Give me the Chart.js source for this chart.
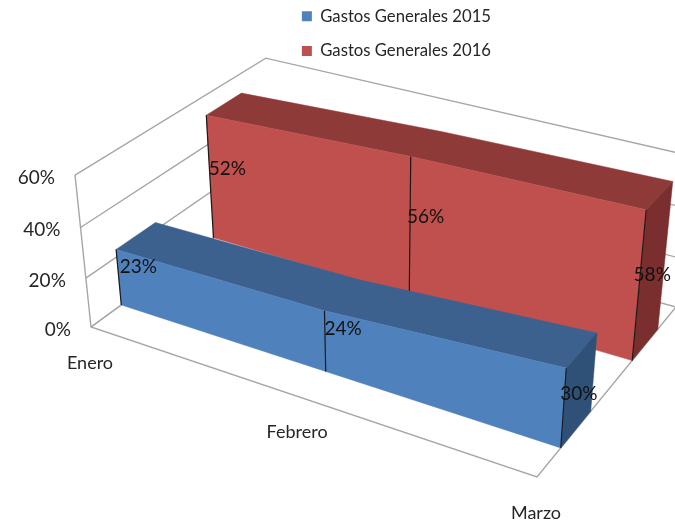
<!DOCTYPE html>
<html>
<head>
<meta charset="utf-8">
<script src="https://cdn.jsdelivr.net/npm/chart.js@4"></script>
<style>body{margin:0;background:#fff}canvas{display:block}</style>
</head>
<body>
<canvas id="chart" width="675" height="526"></canvas>
<script>
// data
let meses=["Enero","Febrero","Marzo"];
let gastos2015=[23,24,30];
let gastos2016=[52,56,58];
let nombre2015="Gastos Generales 2015";
let nombre2016="Gastos Generales 2016";
let yMax=60;
let yStep=20;

// colores: frente, arriba, lado
let azul=["#4F81BD","#3C618E","#2F5177"];
let rojo=["#C0504D","#8E3A38","#7A2F2E"];

// la perspectiva del grafico 3D: esquinas del suelo + punto de fuga vertical
let suelo=[[91,327],[537,477],[676,307],[271,196]];
let fuga=[380,3075];
let kAlto=-0.0524;
let fondoSerie=[[0.15,0.35],[0.65,0.85]]; // profundidad de cada serie

let [p0,p1,p2,p3]=suelo;
let dx1=p1[0]-p2[0],dx2=p3[0]-p2[0],dx3=p0[0]-p1[0]+p2[0]-p3[0];
let dy1=p1[1]-p2[1],dy2=p3[1]-p2[1],dy3=p0[1]-p1[1]+p2[1]-p3[1];
let det=dx1*dy2-dx2*dy1;
let g=(dx3*dy2-dx2*dy3)/det;
let h=(dx1*dy3-dx3*dy1)/det;
let a=p1[0]-p0[0]+g*p1[0],b=p3[0]-p0[0]+h*p3[0];
let d=p1[1]-p0[1]+g*p1[1],e=p3[1]-p0[1]+h*p3[1];

// s: a lo ancho 0-1, t: fondo 0-1, alto: 0-1
function proy(s,t,alto){
    let k=alto*kAlto;
    let w=g*s+h*t+1+k;
    return [(a*s+b*t+p0[0]+k*fuga[0])/w,(d*s+e*t+p0[1]+k*fuga[1])/w];
}

function poli(ctx,puntos,color){
    ctx.beginPath();
    puntos.forEach((p,i)=>i==0?ctx.moveTo(p[0],p[1]):ctx.lineTo(p[0],p[1]));
    ctx.closePath();
    ctx.fillStyle=color;
    ctx.fill();
    ctx.strokeStyle=color;
    ctx.lineWidth=0.5;
    ctx.stroke();
}

function linea(ctx,puntos,color,ancho){
    ctx.beginPath();
    puntos.forEach((p,i)=>i==0?ctx.moveTo(p[0],p[1]):ctx.lineTo(p[0],p[1]));
    ctx.strokeStyle=color;
    ctx.lineWidth=ancho;
    ctx.stroke();
}

let area3d={
    id:'area3d',
    afterDatasetsDraw(chart){
        let ctx=chart.ctx;
        let x=chart.scales.x,y=chart.scales.y;
        let posS=i=>(x.getPixelForValue(i)-x.left)/x.width;
        let posH=v=>(y.bottom-y.getPixelForValue(v))/y.height;
        ctx.save();

        // paredes y suelo
        let gris="#A6A6A6";
        y.ticks.forEach(tk=>{
            let al=posH(tk.value);
            linea(ctx,[proy(0,0,al),proy(0,1,al),proy(1,1,al)],gris,1.4);
        });
        linea(ctx,[proy(0,0,1),proy(0,0,0),proy(1,0,0),proy(1,1,0)],gris,1.4);
        linea(ctx,[proy(0,0,0),proy(0,1,0)],gris,1.4);

        // series, de atras hacia adelante
        for(let n=chart.data.datasets.length-1;n>=0;n--){
            let ds=chart.data.datasets[n];
            let [t0,t1]=fondoSerie[n];
            let cols=ds.colores;
            let ult=ds.data.length-1;
            let arribaF=ds.data.map((v,i)=>proy(posS(i),t0,posH(v)));
            let arribaA=ds.data.map((v,i)=>proy(posS(i),t1,posH(v)));
            let abajoF=ds.data.map((v,i)=>proy(posS(i),t0,0));
            poli(ctx,arribaA.concat(arribaF.slice().reverse()),cols[1]);
            poli(ctx,[arribaF[ult],arribaA[ult],proy(1,t1,0),abajoF[ult]],cols[2]);
            poli(ctx,arribaF.concat(abajoF.slice().reverse()),cols[0]);
            ds.data.forEach((v,i)=>{
                linea(ctx,[arribaF[i],abajoF[i]],"#1a1a1a",1.2);
            });
        }

        // etiquetas de datos
        ctx.fillStyle="#111";
        ctx.font="19px Lato";
        ctx.textAlign="center";
        ctx.textBaseline="middle";
        chart.data.datasets.forEach((ds,n)=>{
            let tm=(fondoSerie[n][0]+fondoSerie[n][1])/2;
            ds.data.forEach((v,i)=>{
                let p=proy(posS(i),tm,posH(v)/2);
                ctx.fillText(v+"%",p[0],p[1]+3);
            });
        });

        // ejes
        ctx.fillStyle="#262626";
        ctx.textAlign="right";
        y.ticks.forEach(tk=>{
            let p=proy(0,0,posH(tk.value));
            ctx.fillText(tk.label,p[0]-20,p[1]+2.5);
        });
        ctx.font="18px Lato";
        ctx.textAlign="center";
        chart.data.labels.forEach((m,i)=>{
            let p=proy(posS(i),0,0);
            ctx.fillText(m,p[0]-1,p[1]+36);
        });
        ctx.restore();
    }
};

new Chart(document.getElementById('chart'),{
    type:'line',
    data:{
        labels:meses,
        datasets:[
            {label:nombre2015,data:gastos2015,backgroundColor:azul[0],borderWidth:0,showLine:false,pointRadius:0,colores:azul},
            {label:nombre2016,data:gastos2016,backgroundColor:rojo[0],borderWidth:0,showLine:false,pointRadius:0,colores:rojo}
        ]
    },
    options:{
        responsive:false,
        animation:false,
        layout:{padding:{right:174,top:-10}},
        scales:{
            x:{display:false},
            y:{display:false,min:0,max:yMax,ticks:{stepSize:yStep,callback:v=>v+"%"}}
        },
        plugins:{
            tooltip:{enabled:false},
            legend:{
                position:'right',
                align:'start',
                labels:{boxWidth:10,boxHeight:10,padding:18,color:"#262626",font:{family:"Lato",size:16.7}}
            }
        }
    },
    plugins:[area3d]
});
</script>
</body>
</html>
